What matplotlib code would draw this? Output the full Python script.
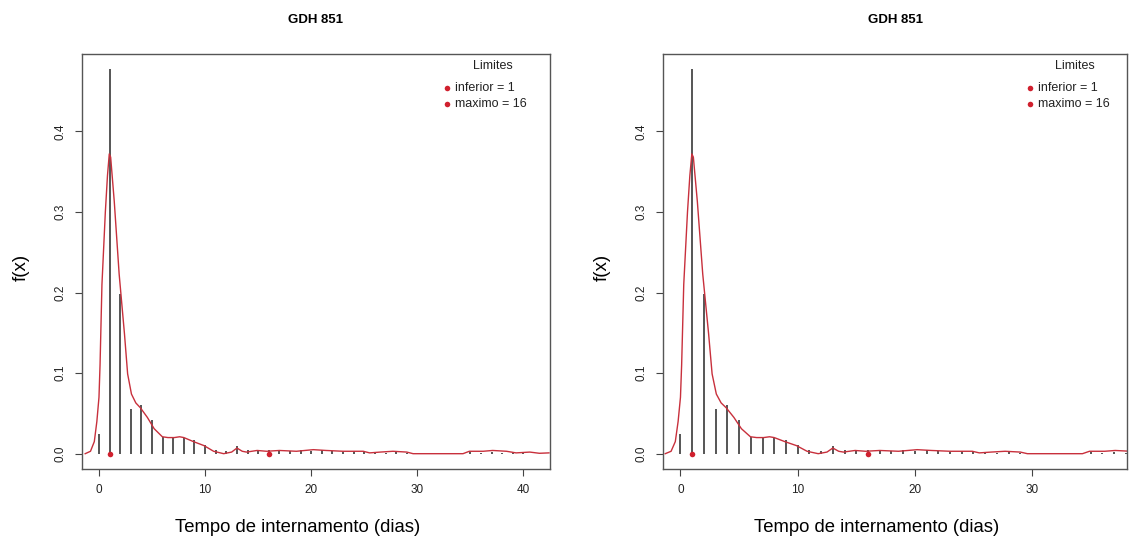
import matplotlib
matplotlib.use("Agg")
import matplotlib.pyplot as plt

plt.rcParams['font.family'] = ['Liberation Sans', 'DejaVu Sans']

title = "GDH 851"
xlabel = "Tempo de internamento (dias)"
ylabel = "f(x)"
legend_title = "Limites"
legend_labels = ["inferior = 1", "maximo = 16"]
limit_days = [1, 16]

# empirical probabilities per day
days = list(range(0, 41))
probs = [0.025, 0.477, 0.198, 0.056, 0.061, 0.042, 0.021, 0.021, 0.020, 0.017,
         0.011, 0.005, 0.003, 0.009, 0.004, 0.004, 0.004, 0.004, 0.003, 0.004,
         0.003, 0.004, 0.003, 0.002, 0.003, 0.002, 0.001, 0.001, 0.002, 0.001,
         0.0, 0.0, 0.0, 0.0, 0.001, 0.002, 0.001, 0.002, 0.001, 0.001, 0.001]

# density curve
dens_x = [-1.3, -0.8, -0.44, -0.2, 0.0, 0.1, 0.28, 0.6, 0.8, 0.97, 1.1, 1.44, 1.9,
          2.4, 2.7, 3.06, 3.47, 3.9, 4.56, 5.2, 5.97, 6.5, 7.1, 7.6, 8.0, 8.9,
          9.9, 10.8, 11.75, 12.5, 13.0, 13.5, 13.9, 14.9, 15.8, 17.0, 18.6,
          20.2, 21.4, 23.0, 24.9, 25.5, 26.5, 27.7, 29.0, 29.6, 34.3, 34.9,
          36.2, 37.1, 38.4, 39.3, 40.6, 41.5, 42.4]
dens_y = [0.0, 0.003, 0.015, 0.04, 0.07, 0.11, 0.21, 0.30, 0.345, 0.372, 0.368,
          0.313, 0.223, 0.149, 0.099, 0.074, 0.063, 0.057, 0.045, 0.031, 0.021,
          0.020, 0.020, 0.021, 0.020, 0.015, 0.010, 0.003, 0.0, 0.002, 0.007,
          0.003, 0.002, 0.004, 0.003, 0.004, 0.003, 0.005, 0.004, 0.003, 0.003,
          0.001, 0.002, 0.003, 0.002, 0.0, 0.0, 0.003, 0.003, 0.004, 0.003,
          0.001, 0.002, 0.0005, 0.001]

panels = [
    {"rect": [82/1130, 1-469/546, 468/1130, 415/546], "xlim": (-1.6, 42.5),
     "xticks": [0, 10, 20, 30, 40], "leg_dot": 0.780, "leg_text": 0.797, "leg_title": 0.878},
    {"rect": [663/1130, 1-469/546, 464/1130, 415/546], "xlim": (-1.49, 38.1),
     "xticks": [0, 10, 20, 30], "leg_dot": 0.791, "leg_text": 0.808, "leg_title": 0.888},
]

red = '#d0202e'
fig = plt.figure(figsize=(11.3, 5.46), dpi=100)
for p in panels:
    ax = fig.add_axes(p["rect"])
    ax.vlines(days, 0, probs, color='#555555', linewidth=1.4)
    ax.plot(dens_x, dens_y, color='#c8303c', linewidth=1.0)
    ax.scatter(limit_days, [0, 0], color=red, s=16, zorder=5, linewidths=0)
    ax.set_xlim(*p["xlim"])
    ax.set_ylim(-0.019, 0.496)
    ax.set_xticks(p["xticks"])
    ax.set_yticks([0.0, 0.1, 0.2, 0.3, 0.4])
    ax.set_yticklabels(["0.0", "0.1", "0.2", "0.3", "0.4"], rotation=90, va='center')
    ax.tick_params(axis='both', labelsize=8.5, length=5, color='#444444',
                   labelcolor='#222222', pad=6)
    for s in ax.spines.values():
        s.set_color('#555555')
        s.set_linewidth(1.0)
    ax.set_title(title, fontsize=9.5, fontweight='bold', pad=22)
    ax.set_xlabel(xlabel, fontsize=13.3)
    ax.xaxis.label.set_va('center')
    ax.xaxis.set_label_coords(0.46, -0.14)
    ax.set_ylabel(ylabel, fontsize=13.5)
    ax.yaxis.label.set_va('center')
    ax.yaxis.set_label_coords(-0.13, 0.485)
    # legend (no frame), placed as in the reference
    ax.text(p["leg_title"], 0.971, legend_title, transform=ax.transAxes,
            ha='center', va='center', fontsize=9, color='#222222')
    for lab, yy in zip(legend_labels, [0.918, 0.880]):
        ax.scatter([p["leg_dot"]], [yy], transform=ax.transAxes, color=red,
                   s=16, linewidths=0, clip_on=False)
        ax.text(p["leg_text"], yy, lab, transform=ax.transAxes, ha='left',
                va='center', fontsize=9, color='#222222')

fig.savefig("out.png", dpi=100)
